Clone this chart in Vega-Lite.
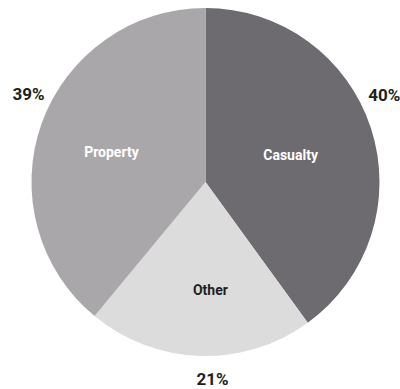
{
  "$schema": "https://vega.github.io/schema/vega-lite/v6.json",
  "width": 400,
  "height": 389,
  "autosize": {"type": "fit", "contains": "padding"},
  "padding": {"left": 11, "right": 0, "top": 0, "bottom": 13},
  "background": "white",
  "view": {"stroke": null},
  "data": {
    "values": [
      {"category": "Casualty", "share": 40, "label": "40%"},
      {"category": "Other", "share": 21, "label": "21%"},
      {"category": "Property", "share": 39, "label": "39%"}
    ]
  },
  "encoding": {
    "theta": {"field": "share", "type": "quantitative", "stack": true},
    "order": {"field": "category", "type": "nominal", "sort": "ascending"}
  },
  "layer": [
    {
      "mark": {"type": "arc", "outerRadius": 174, "stroke": null},
      "encoding": {
        "color": {
          "field": "category",
          "type": "nominal",
          "scale": {"domain": ["Casualty", "Other", "Property"], "range": ["#6e6b70", "#dcdcdc", "#aaa7aa"]},
          "legend": null
        }
      }
    },
    {
      "mark": {
        "type": "text", "radius": 100,
        "dx": {"expr": "datum.category === 'Other' ? 8 : datum.category === 'Casualty' ? -10 : 0"},
        "dy": {"expr": "datum.category === 'Other' ? 9 : 5"},
        "font": "Roboto", "fontWeight": "bold", "fontSize": 14, "baseline": "middle", "align": "center"
      },
      "encoding": {
        "text": {"field": "category", "type": "nominal"},
        "color": {
          "condition": {"test": "datum.category === 'Other'", "value": "#231f20"},
          "value": "#ffffff"
        }
      }
    },
    {
      "mark": {
        "type": "text", "radius": 188,
        "dx": {"expr": "datum.category === 'Other' ? 13 : 0"},
        "dy": {"expr": "datum.category === 'Other' ? 10 : datum.category === 'Property' ? -23 : -28"},
        "font": "Roboto", "fontWeight": "bold", "fontSize": 17, "baseline": "middle", "align": "center", "color": "#231f20"
      },
      "encoding": {
        "text": {"field": "label", "type": "nominal"}
      }
    }
  ]
}
